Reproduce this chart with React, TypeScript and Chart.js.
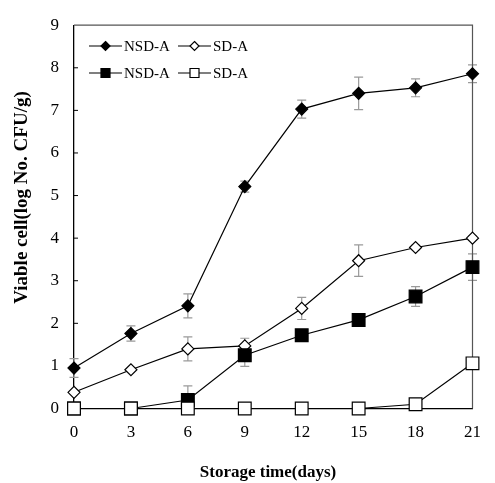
import React, { useEffect, useRef } from "react";
import { Chart, registerables } from "chart.js";

Chart.register(...registerables);

const days = [0, 3, 6, 9, 12, 15, 18, 21];
const xTickValues = [0, 3, 6, 9, 12, 15, 18, 21];
const yTickValues = [0, 1, 2, 3, 4, 5, 6, 7, 8, 9];

const seriesLabels = ["NSD-A", "SD-A", "NSD-A", "SD-A"];
const nsdDiamond = [0.95, 1.76, 2.41, 5.21, 7.03, 7.4, 7.53, 7.86];
const nsdDiamondErr = [0.22, 0.18, 0.28, 0.13, 0.21, 0.38, 0.21, 0.21];
const sdDiamond = [0.38, 0.91, 1.4, 1.47, 2.35, 3.47, 3.78, 4.0];
const sdDiamondErr = [0, 0, 0.28, 0.18, 0.26, 0.37, 0.05, 0.05];
const nsdSquare = [0, 0, 0.2, 1.25, 1.72, 2.08, 2.63, 3.32];
const nsdSquareErr = [0, 0, 0.33, 0.26, 0.05, 0.1, 0.23, 0.31];
const sdSquare = [0, 0, 0, 0, 0, 0, 0.1, 1.06];
const sdSquareErr = [0, 0, 0, 0, 0, 0, 0.05, 0];

const xTitle = "Storage time(days)";
const yTitle = "Viable cell(log No. CFU/g)";

const FONT = "'Liberation Serif', 'Times New Roman', serif";

const seriesValues = [nsdDiamond, sdDiamond, nsdSquare, sdSquare];
const seriesErrors = [nsdDiamondErr, sdDiamondErr, nsdSquareErr, sdSquareErr];
const seriesStyles = ["rectRot", "rectRot", "rect", "rect"];
const seriesFilled = [true, false, true, false];
const seriesRadius = [6, 6, 9, 9];
const seriesOrder = [3, 2, 1, 0];

const errorBarsPlugin = {
  id: "errorBars",
  beforeDatasetsDraw(chart: any) {
    const ctx = chart.ctx;
    const xs = chart.scales.x;
    const ys = chart.scales.y;
    ctx.save();
    ctx.strokeStyle = "#9a9a9a";
    ctx.lineWidth = 1.2;
    seriesValues.forEach((vals, i) => {
      vals.forEach((v, j) => {
        const e = seriesErrors[i][j];
        if (!e) return;
        const x = xs.getPixelForValue(days[j]);
        const y1 = ys.getPixelForValue(v + e);
        const y2 = ys.getPixelForValue(Math.max(0, v - e));
        ctx.beginPath();
        ctx.moveTo(x, y1);
        ctx.lineTo(x, y2);
        ctx.moveTo(x - 4.5, y1);
        ctx.lineTo(x + 4.5, y1);
        ctx.moveTo(x - 4.5, y2);
        ctx.lineTo(x + 4.5, y2);
        ctx.stroke();
      });
    });
    ctx.restore();
  },
};

function drawMarker(ctx: any, style: string, filled: boolean, x: number, y: number, half: number) {
  ctx.beginPath();
  if (style === "rectRot") {
    ctx.moveTo(x, y - half);
    ctx.lineTo(x + half, y);
    ctx.lineTo(x, y + half);
    ctx.lineTo(x - half, y);
    ctx.closePath();
  } else {
    ctx.rect(x - half, y - half, half * 2, half * 2);
  }
  ctx.fillStyle = filled ? "#000" : "#fff";
  ctx.fill();
  ctx.strokeStyle = "#000";
  ctx.lineWidth = 1.2;
  ctx.stroke();
}

const framePlugin = {
  id: "frameAndText",
  beforeDatasetsDraw(chart: any) {
    const ctx = chart.ctx;
    const { left, right, top, bottom } = chart.chartArea;
    const ys = chart.scales.y;
    ctx.save();
    ctx.strokeStyle = "#555";
    ctx.lineWidth = 1.2;
    ctx.beginPath();
    ctx.moveTo(left, top);
    ctx.lineTo(right, top);
    ctx.lineTo(right, bottom);
    ctx.stroke();
    ctx.strokeStyle = "#000";
    ctx.lineWidth = 1;
    ctx.beginPath();
    yTickValues.forEach((t) => {
      if (t === 0 || t === 9) return;
      const y = ys.getPixelForValue(t);
      ctx.moveTo(left, y);
      ctx.lineTo(left + 4, y);
    });
    ctx.stroke();
    ctx.restore();
  },
  afterDraw(chart: any) {
    const ctx = chart.ctx;
    ctx.save();
    // axis titles
    ctx.fillStyle = "#000";
    ctx.font = `bold 17px ${FONT}`;
    ctx.textAlign = "center";
    ctx.textBaseline = "alphabetic";
    ctx.fillText(xTitle, 268, 477);
    ctx.save();
    ctx.translate(27, 197.5);
    ctx.rotate(-Math.PI / 2);
    ctx.font = `bold 19px ${FONT}`;
    ctx.fillText(yTitle, 0, 0);
    ctx.restore();

    // legend (2 x 2)
    const cols = [89, 178];
    const rows = [46, 73];
    ctx.font = `15px ${FONT}`;
    ctx.textAlign = "left";
    ctx.textBaseline = "middle";
    seriesLabels.forEach((label, i) => {
      const cx = cols[i % 2];
      const cy = rows[Math.floor(i / 2)];
      ctx.strokeStyle = "#000";
      ctx.lineWidth = 1.2;
      ctx.beginPath();
      ctx.moveTo(cx, cy);
      ctx.lineTo(cx + 33, cy);
      ctx.stroke();
      const half = seriesStyles[i] === "rectRot" ? 4.5 : 4.5;
      drawMarker(ctx, seriesStyles[i], seriesFilled[i], cx + 16.5, cy, half);
      ctx.fillStyle = "#000";
      ctx.fillText(label, cx + 35, cy + 1);
    });
    ctx.restore();
  },
};

export default function App() {
  const ref = useRef<HTMLCanvasElement | null>(null);

  useEffect(() => {
    if (!ref.current) return;
    Chart.defaults.font.family = FONT;
    const datasets = seriesValues.map((vals, i) => ({
      label: seriesLabels[i],
      data: vals.map((v, j) => ({ x: days[j], y: v })),
      borderColor: "#000",
      borderWidth: 1.2,
      backgroundColor: seriesFilled[i] ? "#000" : "#fff",
      pointBackgroundColor: seriesFilled[i] ? "#000" : "#fff",
      pointBorderColor: "#000",
      pointBorderWidth: 1.2,
      pointStyle: seriesStyles[i],
      pointRadius: seriesRadius[i],
      pointHoverRadius: seriesRadius[i],
      tension: 0,
      fill: false,
      order: seriesOrder[i],
      clip: false as any,
    }));

    const chart = new Chart(ref.current, {
      type: "line",
      data: { datasets },
      options: {
        animation: false,
        responsive: false,
        events: [],
        layout: { padding: { left: 0, right: 7, top: 12.5, bottom: 0 } },
        plugins: {
          legend: { display: false },
          tooltip: { enabled: false },
        },
        scales: {
          x: {
            type: "linear",
            min: 0,
            max: 21,
            afterBuildTicks: (scale: any) => {
              scale.ticks = xTickValues.map((v) => ({ value: v }));
            },
            afterFit: (scale: any) => {
              scale.height = 74.5;
            },
            grid: { display: false, drawTicks: false },
            border: { display: true, color: "#000", width: 1.3 },
            ticks: {
              color: "#000",
              font: { size: 17, family: FONT },
              padding: 14,
              maxRotation: 0,
              autoSkip: false,
            },
          },
          y: {
            type: "linear",
            min: 0,
            max: 9,
            afterBuildTicks: (scale: any) => {
              scale.ticks = yTickValues.map((v) => ({ value: v }));
            },
            afterFit: (scale: any) => {
              scale.width = 74;
            },
            grid: { display: false, drawTicks: false },
            border: { display: true, color: "#000", width: 1.3 },
            ticks: {
              color: "#000",
              font: { size: 17, family: FONT },
              padding: 15,
            },
          },
        },
      },
      plugins: [errorBarsPlugin, framePlugin],
    } as any);

    return () => chart.destroy();
  }, []);

  return (
    <div style={{ position: "absolute", left: 0, top: 0, width: 495, height: 483, background: "#fff" }}>
      <canvas ref={ref} width={495} height={483} style={{ width: 495, height: 483, display: "block" }} />
    </div>
  );
}
